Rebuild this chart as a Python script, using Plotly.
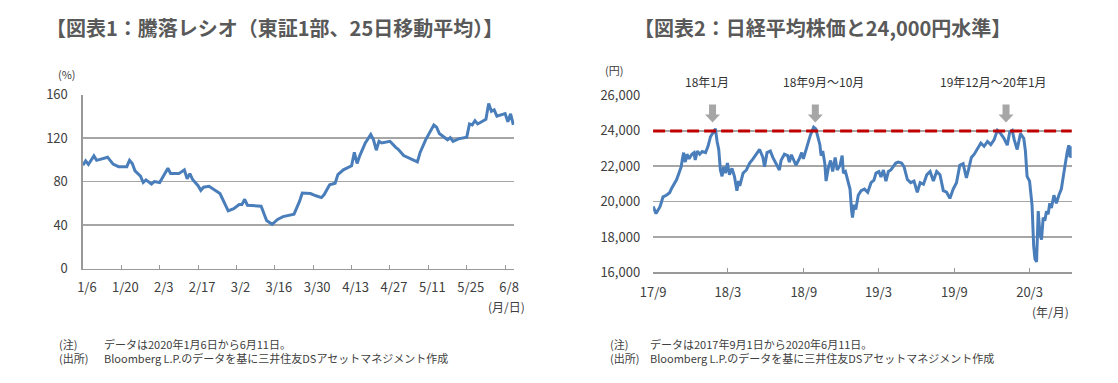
import plotly.graph_objects as go

W, H = 1118, 383
FONT = "Noto Sans CJK JP"
BLUE = "#4a7ebb"
GRID = "#a6a6a6"
TXT = "#404040"


def px(x):
    return x / W


def py(y):
    return 1 - y / H


# ---------------- Chart 1: advance/decline ratio (25-day MA) ----------------
adr_dates = [
    "2020-01-06", "2020-01-07", "2020-01-08", "2020-01-10", "2020-01-11", "2020-01-15",
    "2020-01-17", "2020-01-19", "2020-01-22", "2020-01-23", "2020-01-24", "2020-01-25",
    "2020-01-27", "2020-01-28", "2020-01-29", "2020-01-31", "2020-02-01", "2020-02-03",
    "2020-02-04", "2020-02-06", "2020-02-07", "2020-02-10", "2020-02-12", "2020-02-13",
    "2020-02-14", "2020-02-15", "2020-02-17", "2020-02-18", "2020-02-19", "2020-02-21",
    "2020-02-25", "2020-02-28", "2020-03-01", "2020-03-03", "2020-03-04", "2020-03-05",
    "2020-03-06", "2020-03-11", "2020-03-13", "2020-03-15", "2020-03-17", "2020-03-19",
    "2020-03-23", "2020-03-25", "2020-03-26", "2020-03-29", "2020-03-31", "2020-04-02",
    "2020-04-03", "2020-04-05", "2020-04-07", "2020-04-08", "2020-04-10", "2020-04-13",
    "2020-04-14", "2020-04-15", "2020-04-16", "2020-04-18", "2020-04-20", "2020-04-21",
    "2020-04-22", "2020-04-23", "2020-04-24", "2020-04-27", "2020-04-29", "2020-04-30",
    "2020-05-02", "2020-05-07", "2020-05-08", "2020-05-10", "2020-05-13", "2020-05-14",
    "2020-05-15", "2020-05-18", "2020-05-19", "2020-05-20", "2020-05-22", "2020-05-25",
    "2020-05-26", "2020-05-27", "2020-05-28", "2020-05-29", "2020-06-01", "2020-06-02",
    "2020-06-03", "2020-06-04", "2020-06-05", "2020-06-08", "2020-06-09", "2020-06-10",
    "2020-06-11",
]
adr_values = [
    95, 99, 95.7, 103.6, 99.5, 102.4,
    96, 93.7, 93.7, 99.5, 96.6, 89.9,
    85, 79.1, 81.5, 77.7, 80, 79.1,
    83.5, 92.2, 87.3, 87.3, 90.8, 82.6,
    87.3, 82, 76.2, 71.9, 74.8, 75.6,
    69, 53, 55, 58.8, 58.8, 63.7,
    58.2, 57.3, 44.2, 40.7, 45.1, 47.7,
    50, 61.7, 69.5, 69, 66.9, 65.2,
    68, 77.1, 78.5, 86.4, 90.8, 94.5,
    106.8, 96.6, 103.9, 115.5, 123.3, 118.4,
    108.8, 117, 115.5, 117, 111.7, 109.7,
    103.9, 98, 106.8, 118.4, 132, 130,
    124.2, 118.4, 120.4, 117, 119.3, 120.7,
    133, 132.1, 135.9, 133, 137.3, 151.9,
    144.6, 146, 140.2, 142.5, 135, 142.3,
    132.1,
]
adr_tick_dates = ["2020-01-06", "2020-01-20", "2020-02-03", "2020-02-17", "2020-03-02",
                  "2020-03-16", "2020-03-30", "2020-04-13", "2020-04-27", "2020-05-11",
                  "2020-05-25", "2020-06-08"]
adr_tick_labels = ["1/6", "1/20", "2/3", "2/17", "3/2", "3/16", "3/30", "4/13",
                   "4/27", "5/11", "5/25", "6/8"]
adr_y_ticks = [0, 40, 80, 120, 160]

# ---------------- Chart 2: Nikkei 225 ----------------
nk_dates = [
    "2017-09-01", "2017-09-08", "2017-09-18", "2017-09-25", "2017-10-03", "2017-10-11",
    "2017-10-15", "2017-10-23", "2017-10-28", "2017-11-04", "2017-11-08", "2017-11-11",
    "2017-11-14", "2017-11-15", "2017-11-18", "2017-11-22", "2017-11-27", "2017-12-04",
    "2017-12-09", "2017-12-12", "2017-12-17", "2017-12-23", "2017-12-29", "2018-01-06",
    "2018-01-12", "2018-01-18", "2018-01-26", "2018-01-30", "2018-02-03", "2018-02-07",
    "2018-02-11", "2018-02-15", "2018-02-19", "2018-02-23", "2018-02-28", "2018-03-05",
    "2018-03-11", "2018-03-17", "2018-03-23", "2018-03-27", "2018-03-30", "2018-04-07",
    "2018-04-15", "2018-04-23", "2018-05-01", "2018-05-09", "2018-05-17", "2018-05-25",
    "2018-05-29", "2018-06-04", "2018-06-12", "2018-06-18", "2018-06-26", "2018-07-04",
    "2018-07-08", "2018-07-16", "2018-07-24", "2018-07-28", "2018-08-02", "2018-08-09",
    "2018-08-13", "2018-08-21", "2018-08-27", "2018-08-31", "2018-09-08", "2018-09-17",
    "2018-09-25", "2018-09-30", "2018-10-05", "2018-10-10", "2018-10-13", "2018-10-17",
    "2018-10-22", "2018-10-25", "2018-10-31", "2018-11-05", "2018-11-10", "2018-11-16",
    "2018-11-21", "2018-11-28", "2018-12-03", "2018-12-06", "2018-12-11", "2018-12-18",
    "2018-12-22", "2018-12-26", "2018-12-28", "2019-01-01", "2019-01-05", "2019-01-11",
    "2019-01-18", "2019-01-26", "2019-02-03", "2019-02-11", "2019-02-18", "2019-02-23",
    "2019-03-02", "2019-03-07", "2019-03-13", "2019-03-19", "2019-03-25", "2019-03-31",
    "2019-04-05", "2019-04-12", "2019-04-18", "2019-04-26", "2019-05-02", "2019-05-10",
    "2019-05-18", "2019-05-26", "2019-06-03", "2019-06-10", "2019-06-18", "2019-06-26",
    "2019-07-04", "2019-07-12", "2019-07-20", "2019-07-28", "2019-08-05", "2019-08-13",
    "2019-08-21", "2019-08-29", "2019-09-06", "2019-09-14", "2019-09-22", "2019-09-30",
    "2019-10-05", "2019-10-12", "2019-10-19", "2019-10-27", "2019-11-04", "2019-11-12",
    "2019-11-20", "2019-11-28", "2019-12-06", "2019-12-14", "2019-12-22", "2019-12-30",
    "2020-01-07", "2020-01-13", "2020-01-19", "2020-01-24", "2020-01-31", "2020-02-08",
    "2020-02-16", "2020-02-20", "2020-02-24", "2020-03-01", "2020-03-07", "2020-03-11",
    "2020-03-14", "2020-03-18", "2020-03-22", "2020-03-26", "2020-03-30", "2020-04-03",
    "2020-04-07", "2020-04-11", "2020-04-15", "2020-04-19", "2020-04-23", "2020-04-29",
    "2020-05-05", "2020-05-11", "2020-05-17", "2020-05-23", "2020-05-27", "2020-05-31",
    "2020-06-04", "2020-06-07", "2020-06-10", "2020-06-11",
]
nk_values = [
    19730, 19320, 19730, 20270, 20360, 20500,
    20710, 21070, 21250, 21700, 21970, 22420,
    22770, 22500, 22240, 22680, 22420, 22680,
    22770, 22360, 22860, 22680, 22830, 22770,
    23130, 23670, 23940, 24120, 23400, 22950,
    21790, 21430, 21970, 21610, 22180, 21520,
    21880, 21430, 20620, 21160, 20890, 21610,
    21790, 22180, 22420, 22680, 22950, 22500,
    21970, 22770, 22860, 22500, 22180, 21790,
    22330, 22680, 22600, 22240, 22650, 22330,
    22060, 22420, 22770, 22420, 23040, 23760,
    24210, 24120, 23670, 23220, 22600, 22860,
    22150, 21160, 21970, 22330, 21700, 22500,
    21790, 22060, 22600, 21610, 21700, 21160,
    20710, 19460, 19100, 19820, 19550, 20360,
    20620, 20710, 20530, 21070, 21210, 21610,
    21700, 21390, 21790, 21160, 21700, 21790,
    21970, 22180, 22240, 22180, 21970, 21250,
    21070, 21160, 20530, 21070, 20980, 21520,
    21700, 21160, 21700, 21520, 20620, 20530,
    20180, 20710, 21070, 22060, 22150, 21340,
    21790, 22500, 22680, 23040, 23310, 23130,
    23400, 23220, 23490, 24030, 23850, 23580,
    23190, 23940, 24030, 23490, 22950, 23850,
    23580, 22860, 21430, 21160, 19820, 17490,
    16770, 16590, 19460, 18200, 17850, 19100,
    18920, 19460, 19280, 19910, 19640, 20360,
    19910, 20360, 20710, 21610, 22240, 22770,
    23190, 22500, 23130, 22470,
]
nk_tick_dates = ["2017-09-01", "2018-03-01", "2018-09-01", "2019-03-01", "2019-09-01", "2020-03-01"]
nk_tick_labels = ["17/9", "18/3", "18/9", "19/3", "19/9", "20/3"]
nk_y_ticks = [16000, 18000, 20000, 22000, 24000, 26000]
nk_y_labels = ["16,000", "18,000", "20,000", "22,000", "24,000", "26,000"]
threshold = 24000
arrow_dates = ["2018-01-23", "2018-09-29", "2020-01-04"]
arrow_label_dates = ["2018-01-10", "2018-10-19", "2019-12-04"]
arrow_labels = ["18年1月", "18年9月～10月", "19年12月～20年1月"]

fig = go.Figure()
fig.add_trace(go.Scatter(x=adr_dates, y=adr_values, mode="lines",
                         line=dict(color=BLUE, width=3), xaxis="x", yaxis="y",
                         showlegend=False, hoverinfo="skip"))
fig.add_trace(go.Scatter(x=nk_dates, y=nk_values, mode="lines",
                         line=dict(color=BLUE, width=3), xaxis="x2", yaxis="y2",
                         showlegend=False, hoverinfo="skip"))

tickfont = dict(family=FONT, size=13, color=TXT)

fig.update_layout(
    width=W, height=H, autosize=False,
    margin=dict(l=0, r=0, t=0, b=0),
    paper_bgcolor="white", plot_bgcolor="white",
    font=dict(family=FONT, color=TXT),
    hovermode=False,
    xaxis=dict(domain=[px(71), px(509)], anchor="y", type="date",
               range=["2020-01-06", "2020-06-11 08:00"],
               tickvals=adr_tick_dates, ticktext=adr_tick_labels,
               ticks="inside", ticklen=4, tickcolor="#999999", tickwidth=1,
               showline=True, linecolor="#999999", linewidth=1.5,
               showgrid=False, zeroline=False, tickfont=tickfont,
               ticklabelstandoff=6, ticklabelshift=4),
    yaxis=dict(domain=[py(272), py(89)], anchor="x", range=[0, 160],
               tickvals=adr_y_ticks, showgrid=True, gridcolor=GRID, gridwidth=1.5,
               showline=True, linecolor="#999999", linewidth=1.5,
               ticks="", zeroline=False, tickfont=tickfont, ticklabelstandoff=11),
    xaxis2=dict(domain=[px(650), px(1075)], anchor="y2", type="date",
                range=["2017-09-01", "2020-06-11"],
                tickvals=nk_tick_dates, ticktext=nk_tick_labels,
                ticks="inside", ticklen=4, tickcolor="#999999", tickwidth=1,
                showline=True, linecolor="#999999", linewidth=1.5,
                showgrid=False, zeroline=False, tickfont=tickfont,
                ticklabelstandoff=8),
    yaxis2=dict(domain=[py(276), py(90)], anchor="x2", range=[16000, 26000],
                tickvals=nk_y_ticks, ticktext=nk_y_labels,
                showgrid=True, gridcolor=GRID, gridwidth=1.5,
                showline=False, ticks="", zeroline=False, tickfont=tickfont,
                ticklabelstandoff=12),
)

shapes = [
    dict(type="line", xref="x2 domain", yref="y2", x0=0, x1=1, y0=threshold, y1=threshold,
         line=dict(color="#c00000", width=3, dash="12px,5px"), layer="above"),
]
for d in arrow_dates:
    shapes.append(dict(type="path", xref="x2", yref="y2", xsizemode="pixel", ysizemode="pixel",
                       xanchor=d, yanchor=24480,
                       path="M 0 0 L -7.5 8 L -3.5 8 L -3.5 18 L 3.5 18 L 3.5 8 L 7.5 8 Z",
                       fillcolor="#a6a6a6", line=dict(width=0)))
fig.update_layout(shapes=shapes)

ann = []
title_font = dict(family=FONT, size=20, color="#595959")
ann.append(dict(x=px(266), y=py(18), xref="paper", yref="paper", showarrow=False,
                text="<b>【図表1：騰落レシオ（東証1部、25日移動平均）】</b>", font=title_font,
                xanchor="center", yanchor="middle"))
ann.append(dict(x=px(822), y=py(18), xref="paper", yref="paper", showarrow=False,
                text="<b>【図表2：日経平均株価と24,000円水準】</b>", font=title_font,
                xanchor="center", yanchor="middle"))
small = dict(family=FONT, size=11, color=TXT)
unit = dict(family=FONT, size=12, color=TXT)
ann += [
    dict(x=px(55), y=py(67), text="(%)", font=small, xanchor="center"),
    dict(x=px(610), y=py(63), text="(円)", font=small, xanchor="center"),
    dict(x=px(522), y=py(312), text="(月/日)", font=unit, xanchor="right"),
    dict(x=px(1074), y=py(317), text="(年/月)", font=unit, xanchor="right"),
    dict(x=px(45), y=py(351), text="(注)", font=small, xanchor="left"),
    dict(x=px(90), y=py(351), text="データは2020年1月6日から6月11日。", font=small, xanchor="left"),
    dict(x=px(45), y=py(366), text="(出所)", font=small, xanchor="left"),
    dict(x=px(90), y=py(366), text="Bloomberg L.P.のデータを基に三井住友DSアセットマネジメント作成",
         font=small, xanchor="left"),
    dict(x=px(604), y=py(351), text="(注)", font=small, xanchor="left"),
    dict(x=px(645), y=py(351), text="データは2017年9月1日から2020年6月11日。", font=small, xanchor="left"),
    dict(x=px(604), y=py(366), text="(出所)", font=small, xanchor="left"),
    dict(x=px(645), y=py(366), text="Bloomberg L.P.のデータを基に三井住友DSアセットマネジメント作成",
         font=small, xanchor="left"),
]
for a in ann[2:]:
    a.setdefault("xref", "paper")
    a.setdefault("yref", "paper")
    a.setdefault("showarrow", False)
    a.setdefault("yanchor", "middle")
for d, t in zip(arrow_label_dates, arrow_labels):
    ann.append(dict(x=d, y=py(75), xref="x2", yref="paper", text=t, showarrow=False,
                    font=dict(family=FONT, size=12, color="#333333"),
                    xanchor="center", yanchor="middle"))
fig.update_layout(annotations=ann)

fig.write_html("out.html", config={"displayModeBar": False, "staticPlot": True},
               post_script="document.body.style.margin='0px';document.body.style.overflow='hidden';")
